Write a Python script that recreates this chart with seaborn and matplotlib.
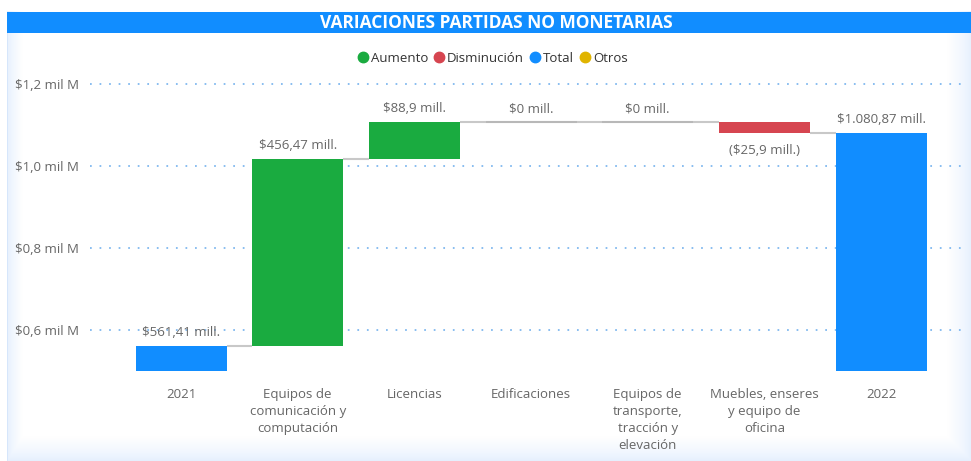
import numpy as np
import matplotlib
matplotlib.use("Agg")
import matplotlib.pyplot as plt
from matplotlib.lines import Line2D
from matplotlib.patches import Rectangle
import seaborn as sns

# datos (millones de pesos)
categorias = [
    "2021",
    "Equipos de\ncomunicación y\ncomputación",
    "Licencias",
    "Edificaciones",
    "Equipos de\ntransporte,\ntracción y\nelevación",
    "Muebles, enseres\ny equipo de\noficina",
    "2022",
]
variaciones = [561.41, 456.47, 88.9, 0.0, 0.0, -25.9, 1080.87]
tipos = ["Total", "Aumento", "Aumento", "Aumento", "Aumento", "Disminución", "Total"]

y_ticks = [600, 800, 1000, 1200]
y_tick_labels = ["$0,6 mil M", "$0,8 mil M", "$1,0 mil M", "$1,2 mil M"]

colores = {"Aumento": "#1AAB40", "Disminución": "#D64550", "Total": "#118DFF", "Otros": "#E0B400"}
GRIS = "#666666"
FUENTE = ["Open Sans", "DejaVu Sans"]


def fmt_mill(v):
    s = f"{abs(v):,.2f}".rstrip("0").rstrip(".")
    s = s.replace(",", "X").replace(".", ",").replace("X", ".")
    s = f"${s} mill."
    return f"({s})" if v < 0 else s


# bases y topes de cada barra
bases, topes = [], []
acum = 0.0
for v, t in zip(variaciones, tipos):
    if t == "Total":
        bases.append(0.0)
        topes.append(v)
        acum = v
    else:
        bases.append(acum)
        acum += v
        topes.append(acum)

sns.set_theme(style="white")
plt.rcParams["font.family"] = FUENTE

fig = plt.figure(figsize=(9.71, 4.61), dpi=100)

# fondo del panel con degradado azul claro en los bordes
bg = fig.add_axes([0, 0, 1, 1], zorder=-10)
W, H = 971, 461
xx = np.arange(W)[None, :]
yy = np.arange(H)[:, None]
d = np.minimum(np.minimum((xx - 7) * 1.6, W - 1 - xx), H - 1 - yy).astype(float)
d = np.clip(d, 0, None)
t = np.clip(d / 24.0, 0, 1) ** 0.8
base = np.array([1.0, 1.0, 1.0])
edge = np.array([0.90, 0.94, 0.995])
img = edge[None, None, :] * (1 - t[..., None]) + base[None, None, :] * t[..., None]
img[:, :7, :] = 1.0
img[:12, :, :] = 1.0
bg.imshow(img, extent=[0, 1, 0, 1], aspect="auto", interpolation="bilinear")
bg.add_patch(Rectangle((7 / W, 0), 1.2 / W, 1 - 12 / H, color="#d6e6fb", lw=0))
bg.set_axis_off()

# barra de título
fig.patches.append(Rectangle((7 / W, 1 - 33 / H), 1 - 7 / W, 21 / H,
                             transform=fig.transFigure, color="#118DFF", lw=0, zorder=0))
fig.text(496 / W, 1 - 22.5 / H, "VARIACIONES PARTIDAS NO MONETARIAS", color="white",
         fontsize=12.5, fontweight="bold", ha="center", va="center")

ax = fig.add_axes([90 / W, 1 - 371 / H, (965 - 90) / W, (371 - 73.75) / H])
ax.set_facecolor("none")

ancho = 0.78
for i, (cat, b, tp, tipo) in enumerate(zip(categorias, bases, topes, tipos)):
    lo, hi = min(b, tp), max(b, tp)
    sns.barplot(x=[cat], y=[hi - lo], bottom=lo, order=categorias, color=colores[tipo],
                width=ancho, saturation=1, edgecolor="none", ax=ax, zorder=3)

# conectores
for i in range(len(categorias) - 1):
    nivel = topes[i]
    ax.hlines(nivel, i + ancho / 2, i + 1 - ancho / 2, color="#c8c8c8", lw=1.5, zorder=2)
    if variaciones[i] == 0:
        ax.hlines(nivel, i - ancho / 2, i + ancho / 2, color="#b8b8b8", lw=1.5, zorder=4)

# etiquetas de datos
for i, (v, b, tp) in enumerate(zip(variaciones, bases, topes)):
    if v < 0:
        ax.annotate(fmt_mill(v), (i, min(b, tp)), xytext=(0, -8), textcoords="offset points",
                    ha="center", va="top", color=GRIS, fontsize=9.5)
    else:
        ax.annotate(fmt_mill(v), (i, max(b, tp)), xytext=(0, 5), textcoords="offset points",
                    ha="center", va="bottom", color=GRIS, fontsize=9.5)

ax.set_ylim(500, 1225)
ax.set_xlim(-0.78, 6.72)
ax.set_yticks(y_ticks)
ax.set_yticklabels(y_tick_labels, color=GRIS, fontsize=9.5, ha="left")
ax.tick_params(axis="y", length=0, pad=54)
ax.tick_params(axis="x", length=0, pad=12, labelsize=9.5, labelcolor=GRIS)
for lab in ax.get_xticklabels():
    lab.set_linespacing(1.4)
ax.set_xlabel("")
ax.set_ylabel("")
ax.grid(axis="y", color="#7ab5ee", linestyle=(0, (1, 4.5)), lw=1.25, zorder=0)
ax.set_axisbelow(True)
for s in ax.spines.values():
    s.set_visible(False)

# leyenda
handles = [Line2D([], [], marker="o", ls="none", color=colores[k], markersize=7.5)
           for k in ["Aumento", "Disminución", "Total", "Otros"]]
fig.legend(handles, ["Aumento", "Disminución", "Total", "Otros"], loc="center",
           bbox_to_anchor=(493 / W, 1 - 58 / H), ncol=4, frameon=False, fontsize=9.5,
           handlelength=0.7, handletextpad=0.25, columnspacing=0.5, labelcolor="#333333")

fig.savefig("out.png", dpi=100)
